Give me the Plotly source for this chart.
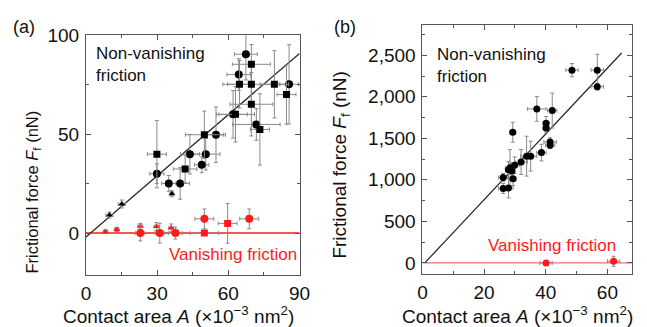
import plotly.graph_objects as go
import numpy as np

# ---------------- Panel (a) data ----------------
a_circ_x = [67.4, 64.4, 85.6, 71.8, 54.8, 50.5, 48.8, 43.8, 29.9, 34.9, 39.7, 62.0]
a_circ_y = [90.4, 80.1, 75.2, 54.9, 49.7, 39.9, 34.5, 39.9, 30.0, 25.1, 25.1, 60.0]
a_circ_xe = [4.8, 5, 4, 10, 4, 6, 3, 4, 3, 3, 4, 6]
a_circ_ye = [13, 8, 20, 8, 14, 8, 4, 10, 5, 4, 8, 12]

a_sq_x = [69.7, 64.7, 69.7, 79.4, 84.5, 69.7, 63.0, 73.3, 49.9, 29.9, 41.8]
a_sq_y = [85.3, 75.2, 75.2, 75.2, 70.0, 65.1, 60.0, 52.4, 49.7, 39.9, 32.4]
a_sq_xe = [8, 5, 12, 6, 4, 9, 8, 4, 8, 4, 5]
a_sq_ye = [10, 12, 10, 17, 15, 16, 14, 18, 12, 17, 7]

a_tri_x = [9.9, 15.1, 36.2]
a_tri_y = [9.1, 14.7, 19.9]
a_tri_xe = [1.5, 1.5, 0.8]
a_tri_ye = [1.5, 2.0, 1.5]

a_rtri_x = [8.2, 13.0, 22.9, 29.7, 35.9]
a_rtri_y = [0.7, 1.8, 3.4, 3.3, 2.6]
a_rtri_xe = [1, 1, 1, 1, 1]
a_rtri_ye = [1, 1, 1.5, 2, 2]

a_rcirc_x = [22.9, 31.1, 37.7, 49.9, 68.8]
a_rcirc_y = [0.0, 0.0, 0.0, 7.2, 7.2]
a_rcirc_xe = [2, 2, 3, 4, 4]
a_rcirc_ye = [4, 5, 3, 5, 5]

a_rsq_x = [49.9, 59.7]
a_rsq_y = [0.0, 4.9]
a_rsq_xe = [6, 4]
a_rsq_ye = [1, 10]

a_fit_slope, a_fit_icpt = 1.031, -2.0
a_xrange = [0, 90]
a_yrange = [-21, 100]

# ---------------- Panel (b) data ----------------
b_x = [48.5, 56.7, 56.7, 37.1, 42.1, 40.1, 40.1, 29.3, 41.4, 41.4, 38.6, 33.8, 35.1,
       32.0, 29.9, 28.4, 27.9, 29.0, 26.2, 29.4, 26.2, 27.9]
b_y = [2321, 2321, 2122, 1854, 1834, 1682, 1624, 1573, 1456, 1417, 1328, 1285, 1285,
       1215, 1176, 1145, 1120, 1106, 1028, 1012, 896, 903]
b_xe = [2, 2, 2, 3, 1.5, 1, 1, 1, 2, 1.5, 1.5, 2, 2, 2, 1.5, 1.5, 1, 1, 1.5, 1, 1.5, 1.5]
b_ye = [80, 190, 40, 150, 210, 80, 50, 120, 50, 40, 100, 240, 180, 150, 100, 220, 100,
        100, 50, 80, 60, 120]

b_rx = [40.1, 62.0]
b_ry = [0, 19]
b_rxe = [2, 2]
b_rye = [20, 60]

b_fit_slope, b_fit_icpt = 39.6, -31.0
b_xrange = [0, 68]
b_yrange = [-130, 2870]

W, H = 647, 327
FONT = "Liberation Sans, Arial, sans-serif"
RED = "#ff1a1a"
EB = "#8a8a8a"


def px(x0, x1):
    return [x0 / W, x1 / W]


def py(top, bottom):
    return [1 - bottom / H, 1 - top / H]


fig = go.Figure()


def pts(x, y, xe, ye, color, symbol, size, xa, ya):
    fig.add_trace(go.Scatter(
        x=x, y=y, mode="markers", xaxis=xa, yaxis=ya,
        marker=dict(color=color, symbol=symbol, size=size, line=dict(width=0)),
        error_x=dict(type="data", array=xe, color=EB, thickness=1, width=2),
        error_y=dict(type="data", array=ye, color=EB, thickness=1, width=2),
        showlegend=False, cliponaxis=True))


# panel (a) lines
ax_line = np.array(a_xrange, dtype=float)
fig.add_trace(go.Scatter(x=ax_line, y=[0, 0], mode="lines", xaxis="x", yaxis="y",
                         line=dict(color=RED, width=1.5), showlegend=False))
fig.add_trace(go.Scatter(x=ax_line, y=a_fit_slope * ax_line + a_fit_icpt, mode="lines",
                         xaxis="x", yaxis="y", line=dict(color="#222", width=1.2),
                         showlegend=False))
pts(a_rtri_x, a_rtri_y, a_rtri_xe, a_rtri_ye, RED, "triangle-up", 6, "x", "y")
pts(a_rcirc_x, a_rcirc_y, a_rcirc_xe, a_rcirc_ye, RED, "circle", 8, "x", "y")
pts(a_rsq_x, a_rsq_y, a_rsq_xe, a_rsq_ye, RED, "square", 7, "x", "y")
pts(a_tri_x, a_tri_y, a_tri_xe, a_tri_ye, "black", "triangle-up", 6, "x", "y")
pts(a_circ_x, a_circ_y, a_circ_xe, a_circ_ye, "black", "circle", 8, "x", "y")
pts(a_sq_x, a_sq_y, a_sq_xe, a_sq_ye, "black", "square", 7, "x", "y")

# panel (b) lines
bx_line = np.array(b_xrange, dtype=float)
fig.add_trace(go.Scatter(x=bx_line, y=[0, 0], mode="lines", xaxis="x2", yaxis="y2",
                         line=dict(color="#f07070", width=1.2), showlegend=False))
bfx = np.array([1.0, 64.6])
fig.add_trace(go.Scatter(x=bfx, y=b_fit_slope * bfx + b_fit_icpt, mode="lines",
                         xaxis="x2", yaxis="y2", line=dict(color="#222", width=1.2),
                         showlegend=False))
pts(b_rx, b_ry, b_rxe, b_rye, RED, "circle", 7, "x2", "y2")
pts(b_x, b_y, b_xe, b_ye, "black", "circle", 7, "x2", "y2")

axis_common = dict(showline=True, linecolor="#555", linewidth=1, mirror="ticks",
                   ticks="inside", ticklen=5, tickcolor="#555", tickwidth=1,
                   showgrid=False, zeroline=False, ticklabelstandoff=2,
                   tickfont=dict(family=FONT, size=19, color="#111"))

fig.update_layout(
    width=W, height=H, margin=dict(l=0, r=0, t=0, b=0),
    paper_bgcolor="white", plot_bgcolor="white",
    xaxis=dict(domain=px(83, 302), range=a_xrange, dtick=30, tick0=0,
               minor=dict(ticks="inside", ticklen=3, dtick=15, tickcolor="#555"),
               anchor="y", **axis_common),
    yaxis=dict(domain=py(26, 273), range=a_yrange, dtick=50, tick0=0,
               minor=dict(ticks="inside", ticklen=3, dtick=25, tickcolor="#555"),
               anchor="x", **axis_common),
    xaxis2=dict(domain=px(428, 643), range=b_xrange, dtick=20, tick0=0,
                minor=dict(ticks="inside", ticklen=3, dtick=10, tickcolor="#555"),
                anchor="y2", **axis_common),
    yaxis2=dict(domain=py(15, 272), range=b_yrange, dtick=500, tick0=0, tickformat=",",
                minor=dict(ticks="inside", ticklen=3, dtick=250, tickcolor="#555"),
                anchor="x2", **axis_common),
    font=dict(family=FONT, size=17, color="#111"),
)


def ann(text, x, y, size=17, color="#111", angle=0, xanchor="center"):
    fig.add_annotation(text=text, x=x / W, y=1 - y / H, xref="paper", yref="paper",
                       showarrow=False, font=dict(family=FONT, size=size, color=color),
                       textangle=angle, xanchor=xanchor, yanchor="middle", align="left")


xt = "Contact area <i>A</i> (×10<sup>−3</sup> nm<sup>2</sup>)"
yt = "Frictional force <i>F</i><sub>f</sub> (nN)"
ann(xt, 178, 315, 19)
ann(xt, 525, 315, 19)
ann(yt, 29, 188, 16.5, angle=-90)
ann(yt, 345, 160, 19, angle=-90)
ann("(a)", 19, 18, 18)
ann("(b)", 349, 18, 18)
ann("Non-vanishing<br>friction", 91, 56, 17, xanchor="left")
ann("Non-vanishing<br>friction", 441, 57, 17, xanchor="left")
ann("Vanishing friction", 166, 252, 17, color=RED, xanchor="left")
ann("Vanishing friction", 493, 243, 17, color=RED, xanchor="left")

fig.write_html("out.html")
